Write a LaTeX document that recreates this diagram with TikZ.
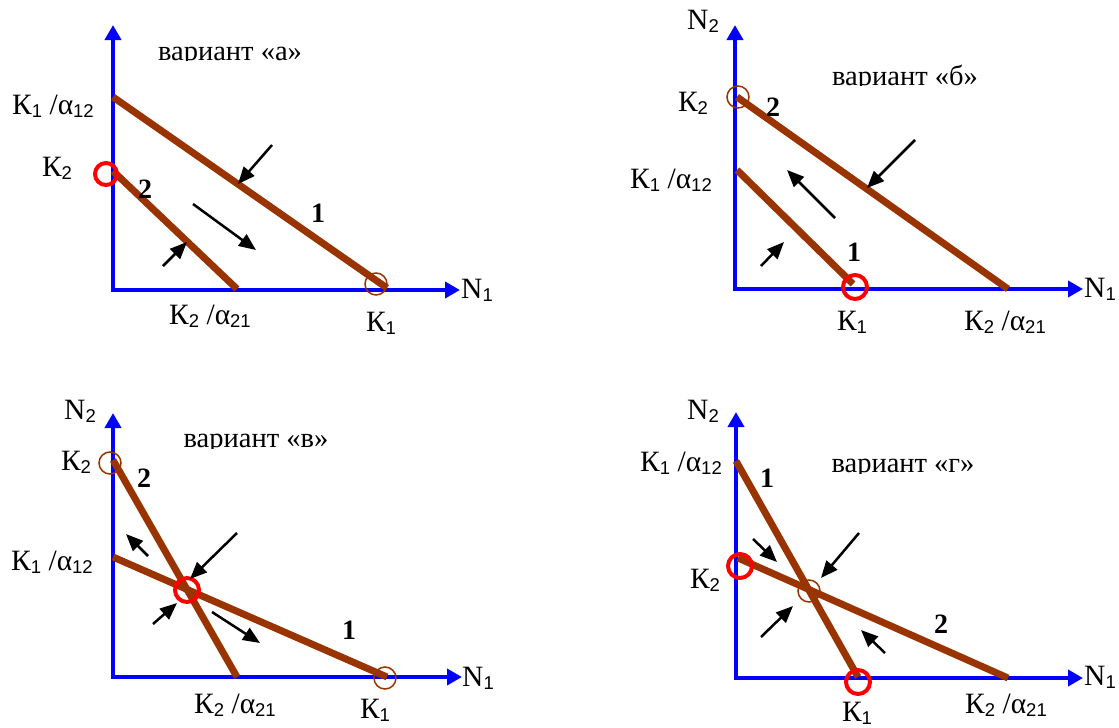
\documentclass[tikz,border=0pt]{standalone}
\usepackage{fontspec}
\setmainfont{Liberation Serif}
\setsansfont{Liberation Sans}
\usetikzlibrary{arrows.meta}
\definecolor{isobrown}{RGB}{153,51,0}
\definecolor{axisblue}{RGB}{0,0,255}
\newcommand\sbs[1]{\raisebox{-3pt}{\fontsize{18.5}{18.5}\selectfont\sffamily #1}}
\tikzset{
  lbl/.style={inner sep=0pt, font=\fontsize{29.5}{32}\selectfont},
  num/.style={inner sep=0pt, font=\fontsize{28}{30}\selectfont\bfseries},
  var/.style={inner sep=0pt, anchor=base, font=\fontsize{28.5}{30}\selectfont},
  axis/.style={draw=axisblue, line width=4pt, line join=miter,
    {Triangle[length=15pt,width=16pt,fill=axisblue]}-{Triangle[length=15pt,width=16pt,fill=axisblue]}},
  iso/.style={draw=isobrown, line width=7pt},
  flow/.style={draw=black, line width=2.5pt, -{Triangle[length=17pt,width=14pt]}},
  stable/.style={draw=red, line width=4pt},
  unstable/.style={draw=isobrown, line width=1.5pt},
}
\begin{document}
\begin{tikzpicture}[x=1pt,y=-1pt]
\useasboundingbox (0,0) rectangle (1119,728);
% ================= panel a =================
\coordinate (aO) at (113,290);
\coordinate (aY) at (113,25);
\coordinate (aX) at (460,290);
\draw[axis] (aY) -- (aO) -- (aX);
\coordinate (a1s) at (113,97);
\coordinate (a1e) at (387,288);
\coordinate (a2s) at (113,171);
\coordinate (a2e) at (237,289);
\draw[iso] (a1s) -- (a1e);
\draw[iso] (a2s) -- (a2e);
\draw[stable] (106,174) circle[radius=11];
\draw[unstable] (376,284) circle[radius=11];
\coordinate (aA1s) at (272,145); \coordinate (aA1e) at (238,184);
\coordinate (aA2s) at (193,204); \coordinate (aA2e) at (256,250);
\coordinate (aA3s) at (163,266); \coordinate (aA3e) at (187,242);
\draw[flow] (aA1s) -- (aA1e);
\draw[flow] (aA2s) -- (aA2e);
\draw[flow] (aA3s) -- (aA3e);
\node[num] (an1) at (318,213) {1};
\node[num] (an2) at (145,189) {2};
\begin{scope}
\clip (130,30) rectangle (330,60.5);
\node[var] (avar) at (230,60) {вариант «а»};
\end{scope}
\node[lbl] (aK1a) at (53,106) {К\sbs{1} /α\sbs{12}};
\node[lbl] (aK2) at (57,168) {К\sbs{2}};
\node[lbl] (aK2a) at (210,316) {К\sbs{2} /α\sbs{21}};
\node[lbl] (aK1) at (381,323) {К\sbs{1}};
\node[lbl] (aN1) at (477,290) {N\sbs{1}};
% ================= panel b =================
\coordinate (bO) at (735,289);
\coordinate (bY) at (735,25);
\coordinate (bX) at (1083,289);
\draw[axis] (bY) -- (bO) -- (bX);
\coordinate (b2s) at (737,97);
\coordinate (b2e) at (1008,289);
\coordinate (b1s) at (737,170);
\coordinate (b1e) at (853,284);
\draw[iso] (b2s) -- (b2e);
\draw[iso] (b1s) -- (b1e);
\draw[unstable] (738,97) circle[radius=11];
\draw[stable] (855,287) circle[radius=12];
\coordinate (bA1s) at (915,140); \coordinate (bA1e) at (867,188);
\coordinate (bA2s) at (835,218); \coordinate (bA2e) at (787,170);
\coordinate (bA3s) at (761,266); \coordinate (bA3e) at (784,242);
\draw[flow] (bA1s) -- (bA1e);
\draw[flow] (bA2s) -- (bA2e);
\draw[flow] (bA3s) -- (bA3e);
\node[num] (bn2) at (773,107) {2};
\node[num] (bn1) at (854,252) {1};
\begin{scope}
\clip (800,50) rectangle (1010,85.5);
\node[var] (bvar) at (905,85) {вариант «б»};
\end{scope}
\node[lbl] (bN2) at (703,21) {N\sbs{2}};
\node[lbl] (bN1) at (1100,289) {N\sbs{1}};
\node[lbl] (bK2) at (693,103) {К\sbs{2}};
\node[lbl] (bK1a) at (671,180) {К\sbs{1} /α\sbs{12}};
\node[lbl] (bK1) at (852,322) {К\sbs{1}};
\node[lbl] (bK2a) at (1005,322) {К\sbs{2} /α\sbs{21}};
% ================= panel c =================
\coordinate (cO) at (113,677);
\coordinate (cY) at (113,413);
\coordinate (cX) at (462,677);
\draw[axis] (cY) -- (cO) -- (cX);
\coordinate (c2s) at (113,460);
\coordinate (c2e) at (237,677);
\coordinate (c1s) at (113,557);
\coordinate (c1e) at (387,677);
\draw[iso] (c2s) -- (c2e);
\draw[iso] (c1s) -- (c1e);
\draw[unstable] (110,463) circle[radius=11];
\draw[unstable] (385,678) circle[radius=11];
\draw[stable] (187,590) circle[radius=12];
\coordinate (cA1s) at (237,533); \coordinate (cA1e) at (190,579);
\coordinate (cA2s) at (153,624); \coordinate (cA2e) at (177,603);
\coordinate (cA3s) at (148,556); \coordinate (cA3e) at (126,534);
\coordinate (cA4s) at (212,612); \coordinate (cA4e) at (260,643);
\draw[flow] (cA1s) -- (cA1e);
\draw[flow] (cA2s) -- (cA2e);
\draw[flow] (cA3s) -- (cA3e);
\draw[flow] (cA4s) -- (cA4e);
\node[num] (cn2) at (144,478) {2};
\node[num] (cn1) at (349,630) {1};
\begin{scope}
\clip (160,420) rectangle (360,448);
\node[var] (cvar) at (256,447.5) {вариант «в»};
\end{scope}
\node[lbl] (cN2) at (80,411) {N\sbs{2}};
\node[lbl] (cN1) at (478,678) {N\sbs{1}};
\node[lbl] (cK2) at (76,462) {К\sbs{2}};
\node[lbl] (cK1a) at (52,562) {К\sbs{1} /α\sbs{12}};
\node[lbl] (cK2a) at (235,705) {К\sbs{2} /α\sbs{21}};
\node[lbl] (cK1) at (375,710) {К\sbs{1}};
% ================= panel d =================
\coordinate (dO) at (736,678);
\coordinate (dY) at (736,412);
\coordinate (dX) at (1083,678);
\draw[axis] (dY) -- (dO) -- (dX);
\coordinate (d1s) at (736,461);
\coordinate (d1e) at (858,677);
\coordinate (d2s) at (738,558);
\coordinate (d2e) at (1008,678);
\draw[iso] (d1s) -- (d1e);
\draw[iso] (d2s) -- (d2e);
\draw[stable] (740,566) circle[radius=12];
\draw[stable] (858,682) circle[radius=12];
\draw[unstable] (809,591) circle[radius=11];
\coordinate (dA1s) at (753,539); \coordinate (dA1e) at (777,562);
\coordinate (dA2s) at (859,533); \coordinate (dA2e) at (821,578);
\coordinate (dA3s) at (761,637); \coordinate (dA3e) at (793,606);
\coordinate (dA4s) at (885,653); \coordinate (dA4e) at (861,630);
\draw[flow] (dA1s) -- (dA1e);
\draw[flow] (dA2s) -- (dA2e);
\draw[flow] (dA3s) -- (dA3e);
\draw[flow] (dA4s) -- (dA4e);
\node[num] (dn1) at (767,478) {1};
\node[num] (dn2) at (941,624) {2};
\begin{scope}
\clip (800,440) rectangle (1010,473);
\node[var] (dvar) at (903,472.5) {вариант «г»};
\end{scope}
\node[lbl] (dN2) at (703,411) {N\sbs{2}};
\node[lbl] (dN1) at (1100,677) {N\sbs{1}};
\node[lbl] (dK1a) at (681,463) {К\sbs{1} /α\sbs{12}};
\node[lbl] (dK2) at (705,580) {К\sbs{2}};
\node[lbl] (dK1) at (857,713) {К\sbs{1}};
\node[lbl] (dK2a) at (1006,705) {К\sbs{2} /α\sbs{21}};
\end{tikzpicture}
\end{document}
